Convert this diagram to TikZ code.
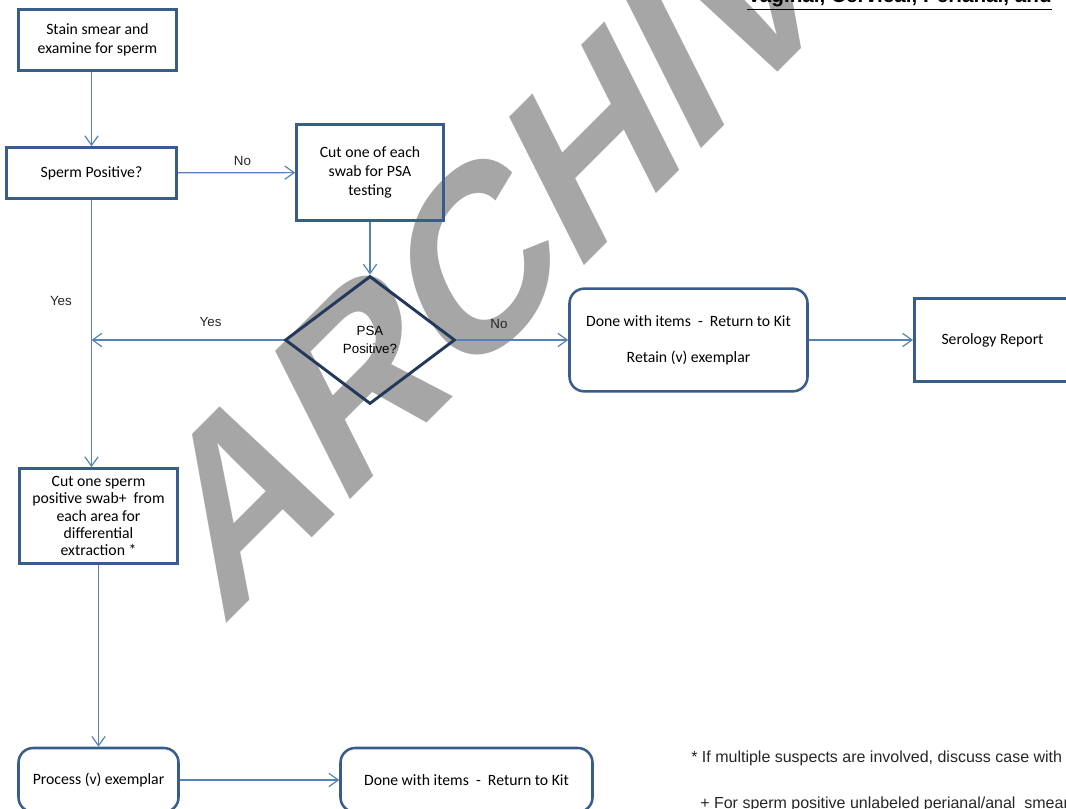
\documentclass[tikz,border=0pt]{standalone}
\usepackage{fontspec}
\setmainfont{Carlito}
\newfontfamily\arialfont{Liberation Sans}
\usetikzlibrary{arrows.meta,shapes.geometric}

\definecolor{boxline}{HTML}{385D8A}
\definecolor{diamline}{HTML}{24395A}
\definecolor{flowline}{HTML}{5682B6}
\definecolor{stampgray}{HTML}{A6A6A6}

\tikzset{
  box/.style={draw=boxline, line width=2.3pt, align=center, inner sep=2pt,
    font=\fontsize{11.8}{14}\selectfont},
  roundbox/.style={box, rounded corners=11pt, line width=1.9pt},
  decision/.style={diamond, draw=diamline, line width=2.2pt, inner sep=0pt, align=center,
    font=\arialfont\fontsize{10}{13}\selectfont},
  flow/.style={draw=flowline, line width=0.9pt, -{Straight Barb[length=7pt,width=10pt]}},
  lbl/.style={font=\arialfont\fontsize{10}{12}\selectfont, text=black!85},
  note/.style={anchor=base west, inner sep=0pt, font=\arialfont\fontsize{12}{14}\selectfont, text=black!85}
}

\begin{document}
\begin{tikzpicture}[x=0.75pt, y=-0.75pt]
\useasboundingbox (0,0) rectangle (1066,809);
\clip (0,0) rectangle (1066,809);

% stamp across the page
\begin{scope}[shift={(222,628)}, rotate=45, xslant=0.33, transform shape]
  \node[anchor=base west, inner sep=0pt, text=stampgray,
    font=\arialfont\bfseries\fontsize{172}{172}\selectfont] (stamp) at (0,0) {ARCHIVE};
\end{scope}

\node[anchor=base west, inner sep=0pt, font=\arialfont\bfseries\fontsize{15.5}{18}\selectfont]
  (title) at (747,3) {\underline{Vaginal, Cervical, Perianal, and}};

% steps
\node[box, minimum width=118.5pt, minimum height=45.75pt] (stain) at (97.5,40) {Stain smear and\\examine for sperm};
\node[box, minimum width=127.5pt, minimum height=38pt] (sperm) at (91.5,173) {Sperm Positive?};
\node[box, minimum width=110pt, minimum height=72pt] (cuteach) at (370,172.5) {Cut one of each\\swab for PSA\\testing};
\node[decision, minimum width=127.5pt, minimum height=96pt] (psa) at (370,340) {PSA\\Positive?};
\node[roundbox, minimum width=178.5pt, minimum height=77pt] (retain) at (688.5,340)
  {Done with items\ \ -\ \ Return to Kit\\[13pt]Retain (v) exemplar};
\node[box, minimum width=117pt, minimum height=62pt] (serology) at (992.5,340) {Serology Report};
\node[box, minimum width=119pt, minimum height=71pt, font=\fontsize{11.8}{13.1}\selectfont] (cutsperm) at (98.5,516)
  {Cut one sperm\\positive swab+\ \ from\\each area for\\differential\\extraction *};
\node[roundbox, minimum width=120pt, minimum height=48pt] (process) at (98.5,780) {Process (v) exemplar};
\node[roundbox, minimum width=189pt, minimum height=48pt] (done) at (466.5,780) {Done with items\ \ -\ \ Return to Kit};

% connectors
\draw[flow] (stain.south -| sperm.north) -- (sperm.north);
\draw[flow] (sperm) -- node[lbl, above=1.3pt, pos=0.55] {No} (cuteach);
\draw[flow] (cuteach) -- (psa);
\draw[flow] (sperm.south) -- node[lbl, left=11pt, pos=0.38] {Yes} (sperm.south |- cutsperm.north);
\draw[flow] (psa) -- node[lbl, above=6.5pt, pos=0.38] {Yes} (psa.west -| sperm.south);
\draw[flow] (psa) -- node[lbl, above=5pt, pos=0.38] {No} (retain);
\draw[flow] (retain) -- (serology);
\draw[flow] (cutsperm) -- (process);
\draw[flow] (process) -- (done);

% footnotes
\node[note] (note1) at (691,762) {* If multiple suspects are involved, discuss case with};
\node[note] (note2) at (700,808) {+ For sperm positive unlabeled perianal/anal\ \ smears};
\end{tikzpicture}
\end{document}
